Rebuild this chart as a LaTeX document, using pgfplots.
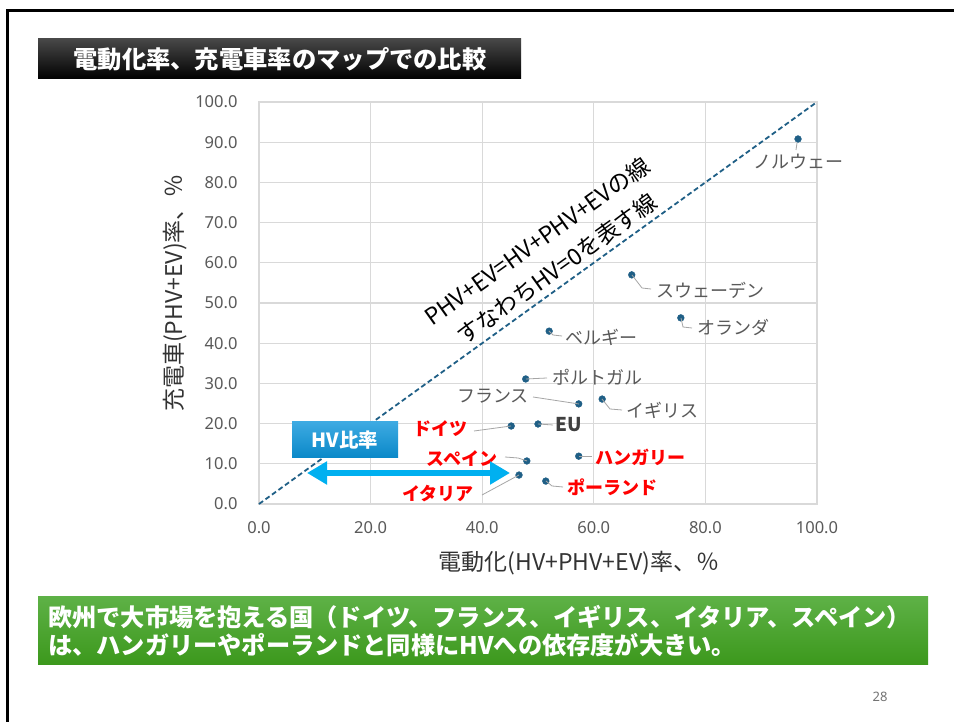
\documentclass[border=0pt]{standalone}
\usepackage{fontspec}
\setmainfont{Noto Sans CJK JP}
\newfontfamily\tickfont{Noto Sans}
\usepackage{pgfplots}
\pgfplotsset{compat=1.18}
\usetikzlibrary{arrows.meta}
\definecolor{ptc}{HTML}{1F5F86}
\definecolor{tk}{HTML}{595959}
\definecolor{grc}{HTML}{D9D9D9}
\definecolor{lbl}{HTML}{595959}
\definecolor{jred}{HTML}{FF0000}
\definecolor{hvtop}{HTML}{3DAAE2}
\definecolor{hvbot}{HTML}{0A88C8}
\definecolor{arr}{HTML}{00B0F0}
\definecolor{gtop}{HTML}{5EB146}
\definecolor{gbot}{HTML}{3C981C}
\definecolor{leader}{HTML}{A6A6A6}
\begin{document}
\begin{tikzpicture}[x=1pt,y=1pt]
\path[use as bounding box] (0,0) rectangle (954,722);
\fill[white] (0,0) rectangle (954,722);
\draw[line width=3pt] (7,0) -- (7,711) -- (954,711);
\shade[top color=black!72, bottom color=black] (38,643) rectangle (521,683);
\node[text=white, font=\bfseries\fontsize{24.3}{24.3}\selectfont] at (280,663) {電動化率、充電車率のマップでの比較};

\begin{axis}[at={(259pt,218pt)}, anchor=south west, scale only axis,
  width=558pt, height=402pt, xmin=0, xmax=100, ymin=0, ymax=100,
  xtick={0,20,...,100}, ytick={0,10,...,100},
  grid=major, major grid style={draw=grc, line width=1.2pt},
  axis line style={draw=grc, line width=1.2pt}, tick style={draw=none},
  ticklabel style={font=\tickfont\fontsize{16.5}{16.5}\selectfont, text=tk},
  xticklabel style={yshift=-14pt}, yticklabel style={xshift=-18pt},
  /pgf/number format/.cd, fixed, fixed zerofill, precision=1, assume math mode=true,
  /pgfplots/.cd, clip=false]
\addplot[draw=ptc, line width=1.8pt, dash pattern=on 5pt off 3pt] coordinates {(0,0) (100,100)};
\addplot[only marks, mark=*, mark size=3.4pt, color=ptc] table {
x y
96.6 90.8
66.8 57.0
75.6 46.3
52.0 43.0
47.8 31.1
57.3 24.9
61.5 26.1
45.2 19.4
50.0 19.9
48.0 10.7
57.3 11.9
46.6 7.2
51.4 5.7
};
\end{axis}

% axis titles
\node[font=\fontsize{23}{23}\selectfont, text=black!80] at (579,159) {電動化(HV+PHV+EV)率、％};
\node[rotate=90, font=\fontsize{23}{23}\selectfont, text=black!80] at (175,429) {充電車(PHV+EV)率、％};

% diagonal annotation
\node[rotate=35.5, align=center, font=\fontsize{23}{34}\selectfont] at (547,467) {PHV+EV=HV+PHV+EVの線\\すなわちHV=0を表す線};

% leader lines
\begin{scope}[draw=leader, line width=0.8pt]
\draw (797,579) -- (796,572);
\draw (632,447) -- (642,434) -- (651,433);
\draw (681,404) -- (683,395) -- (692,394);
\draw (549,391) -- (553,387) -- (562,386);
\draw (526,343) -- (547,344);
\draw (533,325) -- (579,318);
\draw (602,323) -- (610,313) -- (622,312);
\draw (474,291) -- (511,296);
\draw (538,298) -- (553,297);
\draw (505,265) -- (518,264) -- (527,261);
\draw (579,266) -- (592,266);
\draw (482,227) -- (519,247);
\draw (546,241) -- (552,236) -- (563,235);
\end{scope}

% labels
\begin{scope}[every node/.style={font=\fontsize{18}{18}\selectfont, text=lbl, inner sep=0pt}]
\node at (798,560) {ノルウェー};
\node at (710,432) {スウェーデン};
\node at (733,394) {オランダ};
\node at (601,385) {ベルギー};
\node at (597,345) {ポルトガル};
\node at (493,326) {フランス};
\node at (662,312) {イギリス};
\end{scope}
\begin{scope}[every node/.style={font=\bfseries\fontsize{18}{18}\selectfont, text=jred, inner sep=0pt}]
\node at (440,293) {ドイツ};
\node at (462,263) {スペイン};
\node at (640,265) {ハンガリー};
\node at (438,228) {イタリア};
\node at (612,235) {ポーランド};
\end{scope}
\node[font=\bfseries\fontsize{19}{19}\selectfont, text=black!75, inner sep=0pt] at (569,297) {EU};

% HV ratio box and arrow
\shade[top color=hvtop, bottom color=hvbot] (292,264) rectangle (398,300);
\node[text=white, font=\bfseries\fontsize{19.5}{19.5}\selectfont] at (345,282) {HV比率};
\draw[arr, line width=6pt, {Triangle[length=20pt,width=22pt]}-{Triangle[length=20pt,width=22pt]}] (307,249) -- (510,249);

% green box
\shade[top color=gtop, bottom color=gbot] (38,57) rectangle (928,125);
\node[anchor=west, text=white, font=\bfseries\fontsize{24.2}{24.2}\selectfont, inner sep=0pt] at (48,105) {欧州で大市場を抱える国（ドイツ、フランス、イギリス、イタリア、スペイン）};
\node[anchor=west, text=white, font=\bfseries\fontsize{24.2}{24.2}\selectfont, inner sep=0pt] at (48,77) {は、ハンガリーやポーランドと同様にHVへの依存度が大きい。};

% page number
\node[text=black!55, font=\tickfont\fontsize{13}{13}\selectfont] at (880,25) {28};
\end{tikzpicture}
\end{document}
